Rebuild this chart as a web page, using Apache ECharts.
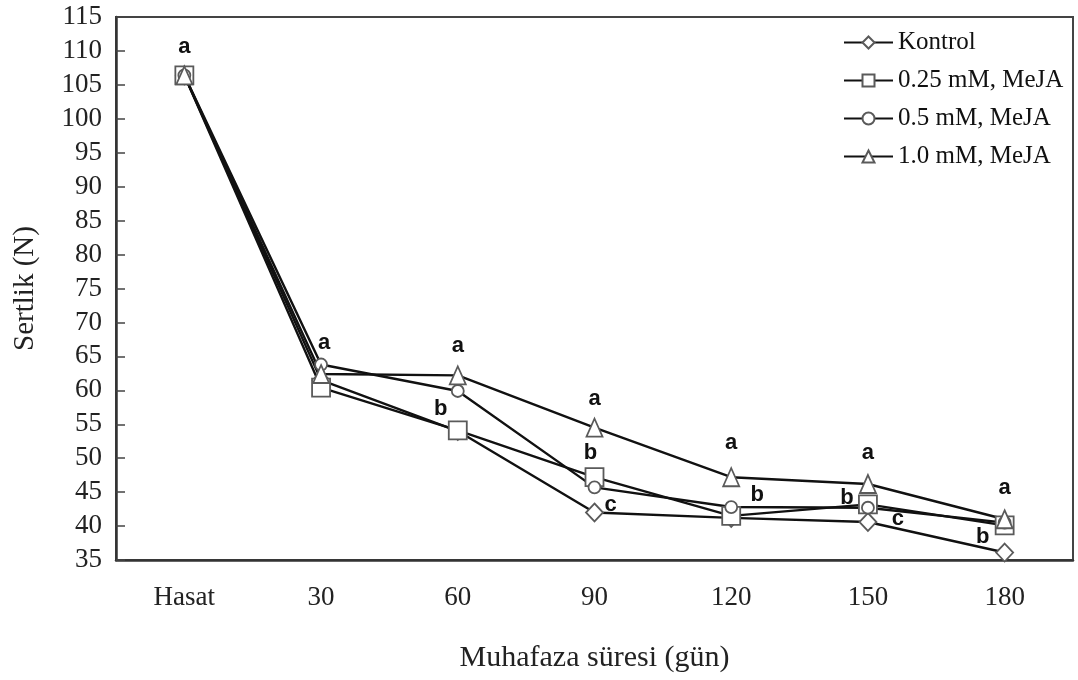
<!DOCTYPE html>
<html>
<head>
<meta charset="utf-8">
<title>Sertlik</title>
<script src="https://cdn.jsdelivr.net/npm/echarts@6/dist/echarts.min.js"></script>
<style>
  html, body { margin: 0; padding: 0; background: #fff; }
  #chart { width: 1078px; height: 680px; }
</style>
</head>
<body>
<div id="chart"></div>
<script>
// Storage time categories
const categories = ['Hasat', '30', '60', '90', '120', '150', '180'];

// Firmness (N) for each treatment
const kontrol = [106.4, 61.5, 54.0, 42.0, 41.2, 40.6, 36.1];
const meja025 = [106.4, 60.4, 54.1, 47.2, 41.5, 43.2, 40.1];
const meja05  = [106.4, 63.8, 59.9, 45.7, 42.8, 42.7, 40.5];
const meja10  = [106.4, 62.4, 62.2, 54.5, 47.2, 46.2, 41.0];

// Significance letters attached to points
const lettersKontrol = ['', '', '', 'c', '', 'c', 'b'];
const letters025     = ['', '', 'b', 'b', '', 'b', ''];
const letters05      = ['', '', '', '', 'b', '', ''];
const letters10      = ['a', 'a', 'a', 'a', 'a', 'a', 'a'];

// Y-axis tick range
const yMin = 35, yMax = 115, yStep = 5;

// Letter placement relative to each point (layout only)
const letterOffsets = {
  kontrol: [null, null, null, [16, -8], null, [30, -3], [-22, -16]],
  m025:    [null, null, [-17, -21], [-4, -24], null, [-21, -6], null],
  m05:     [null, null, null, null, [26, -12], null, null],
  m10:     [[0, -28], [3, -31], [0, -29], [0, -29], [0, -34], [0, -31], [0, -31]]
};

function withLetters(values, letters, offsets) {
  return values.map((v, i) => {
    const item = { value: v };
    if (letters[i]) {
      item.label = {
        show: true,
        position: 'inside',
        formatter: letters[i],
        offset: offsets[i] || [0, 0]
      };
    }
    return item;
  });
}

const markerStyle = { color: '#fff', borderColor: '#5a5a5a', borderWidth: 1.8 };
const lineStyle = { color: '#111', width: 2.4 };
const letterLabel = {
  fontFamily: 'Liberation Sans', fontWeight: 'bold', fontSize: 22, color: '#111',
  align: 'center', verticalAlign: 'middle'
};

function makeSeries(name, values, letters, offsets, symbol, size) {
  return {
    name: name,
    type: 'line',
    data: withLetters(values, letters, offsets),
    symbol: symbol,
    symbolSize: size,
    showAllSymbol: true,
    lineStyle: lineStyle,
    itemStyle: markerStyle,
    label: Object.assign({ show: false }, letterLabel),
    emphasis: { disabled: true },
    animation: false
  };
}

const chart = echarts.init(document.getElementById('chart'), null, { renderer: 'canvas' });

const serif = 'Liberation Serif';

chart.setOption({
  backgroundColor: '#fff',
  animation: false,
  grid: {
    left: 116, top: 17, right: 5, bottom: 120,
    show: true, borderColor: '#444', borderWidth: 2, backgroundColor: 'transparent'
  },
  legend: {
    orient: 'vertical',
    left: 838, top: 24,
    itemWidth: 49, itemHeight: 15, itemGap: 11,
    textStyle: { fontFamily: serif, fontSize: 25, color: '#111', lineHeight: 27 },
    data: ['Kontrol', '0.25 mM, MeJA', '0.5 mM, MeJA', '1.0 mM, MeJA']
  },
  xAxis: {
    type: 'category',
    data: categories,
    boundaryGap: true,
    name: 'Muhafaza süresi (gün)',
    nameLocation: 'middle',
    nameGap: 83,
    nameTextStyle: { fontFamily: serif, fontSize: 30, color: '#222' },
    axisLine: { lineStyle: { color: '#333', width: 2.5 } },
    axisTick: { inside: true, alignWithLabel: true, length: 8, lineStyle: { color: '#444', width: 1.5 } },
    axisLabel: { fontFamily: serif, fontSize: 27, color: '#222', margin: 24 },
    splitLine: { show: false }
  },
  yAxis: {
    type: 'value',
    min: yMin, max: yMax, interval: yStep,
    name: 'Sertlik (N)',
    nameLocation: 'middle',
    nameGap: 76,
    nameRotate: 90,
    nameTextStyle: { fontFamily: serif, fontSize: 29, color: '#222' },
    axisLine: { show: true, lineStyle: { color: '#333', width: 2.5 } },
    axisTick: { show: true, inside: true, length: 9, lineStyle: { color: '#444', width: 1.5 } },
    axisLabel: { fontFamily: serif, fontSize: 27, color: '#222', margin: 14 },
    splitLine: { show: false }
  },
  series: [
    makeSeries('Kontrol', kontrol, lettersKontrol, letterOffsets.kontrol, 'diamond', [17, 18]),
    makeSeries('0.25 mM, MeJA', meja025, letters025, letterOffsets.m025, 'rect', 18),
    makeSeries('0.5 mM, MeJA', meja05, letters05, letterOffsets.m05, 'circle', 12),
    makeSeries('1.0 mM, MeJA', meja10, letters10, letterOffsets.m10, 'triangle', [16, 18])
  ]
});
</script>
</body>
</html>
